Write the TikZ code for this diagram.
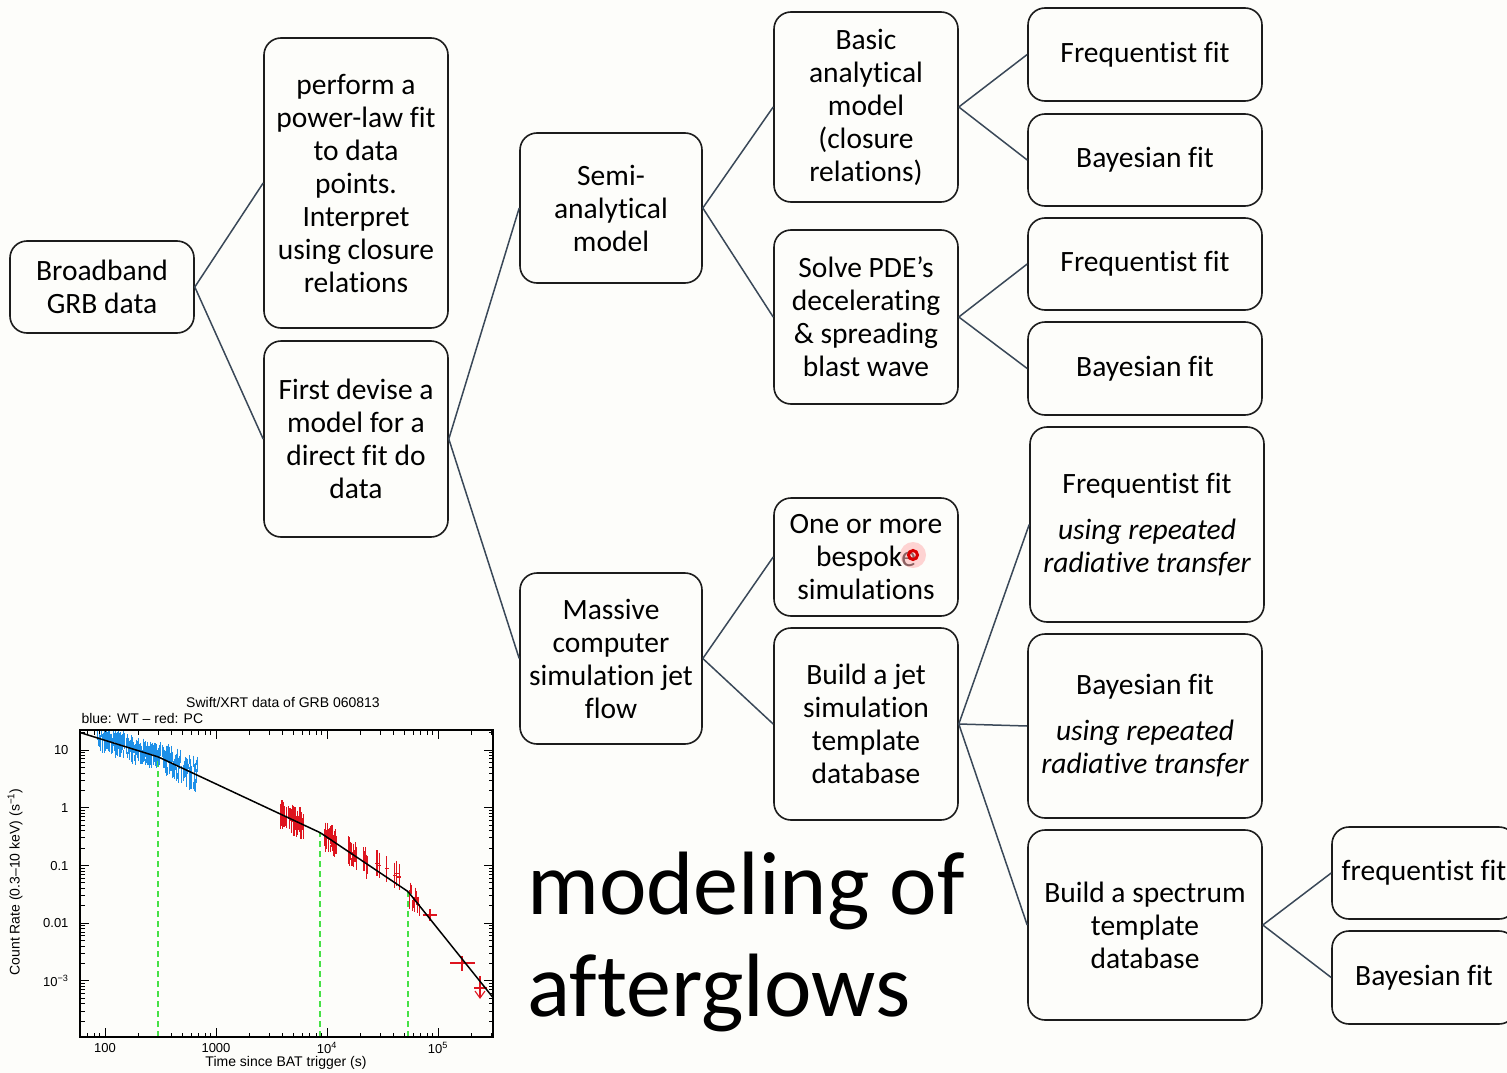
\documentclass[tikz,border=0pt]{standalone}
\usepackage{fontspec}
\setmainfont[Ligatures=NoCommon]{Carlito}
\newfontfamily\plotfont{Liberation Sans}
\usetikzlibrary{arrows.meta}

\definecolor{bg}{RGB}{253,253,250}
\definecolor{linkc}{RGB}{58,72,88}
\definecolor{boxc}{RGB}{28,28,28}
\definecolor{wtblue}{RGB}{30,144,232}
\definecolor{pcred}{RGB}{222,20,30}
\definecolor{brkgreen}{RGB}{70,225,70}

\tikzset{
  box/.style={draw=boxc, line width=1.6pt, rounded corners=17pt, align=center,
    inner sep=0pt, font=\fontsize{29.5}{33}\selectfont},
  link/.style={draw=linkc, line width=1.5pt},
  axisfont/.style={font=\plotfont\fontsize{14}{16}\selectfont},
  tickfont/.style={font=\plotfont\fontsize{13}{15}\selectfont},
  tickmark/.style={line width=0.9pt, black},
  wtbar/.style={wtblue, line width=0.9pt},
  pcbar/.style={pcred, line width=1.1pt},
  breakline/.style={brkgreen, line width=1.5pt, dash pattern=on 6pt off 4pt},
  declare function={
    lcurve(\q) = (\q<2.48)*(0.88-0.6*(\q-2.48))
               + (\q>=2.48)*(\q<3.94)*(0.88-0.9*(\q-2.48))
               + (\q>=3.94)*(\q<4.73)*(-0.434-1.29*(\q-3.94))
               + (\q>=4.73)*(-1.453-2.4*(\q-4.73));
    px(\q) = 105+111*(\q-2);
    py(\q) = 750-57.7*(\q-1);
  }
}

\begin{document}
\begin{tikzpicture}[x=1pt,y=-1pt]
\useasboundingbox (0,0) rectangle (1507,1073);
\fill[bg] (0,0) rectangle (1507,1073);

% ---------------- decision tree ----------------
\node[box, minimum width=184pt, minimum height=92pt]  (grb)  at (102,287)  {Broadband\\GRB data};
\node[box, minimum width=184pt, minimum height=290pt] (pl)   at (356,183)  {perform a\\power-law fit\\to data\\points.\\Interpret\\using closure\\relations};
\node[box, minimum width=184pt, minimum height=196pt] (dev)  at (356,439)  {First devise a\\model for a\\direct fit do\\data};
\node[box, minimum width=182pt, minimum height=150pt] (semi) at (611,208)  {Semi-\\analytical\\model};
\node[box, minimum width=182pt, minimum height=171pt] (mass) at (611,658.5){Massive\\computer\\simulation jet\\flow};
\node[box, minimum width=184pt, minimum height=190pt] (basic) at (866,107) {Basic\\analytical\\model\\(closure\\relations)};
\node[box, minimum width=184pt, minimum height=174pt] (pde)  at (866,317)  {Solve PDE’s\\decelerating\\\& spreading\\blast wave};
\node[box, minimum width=184pt, minimum height=118pt] (besp) at (866,557)  {One or more\\bespoke\\simulations};
\node[box, minimum width=184pt, minimum height=192pt] (jet)  at (866,724)  {Build a jet\\simulation\\template\\database};

\node[box, minimum width=234pt, minimum height=93pt]  (fa) at (1145,54.5)  {Frequentist fit};
\node[box, minimum width=234pt, minimum height=92pt]  (ba) at (1145,160)   {Bayesian fit};
\node[box, minimum width=234pt, minimum height=92pt]  (fb) at (1145,264)   {Frequentist fit};
\node[box, minimum width=234pt, minimum height=93pt]  (bb) at (1145,368.5) {Bayesian fit};
\node[box, minimum width=234pt, minimum height=195pt] (fc) at (1147,524.5)
  {Frequentist fit\\[13pt]\itshape using repeated\\\itshape radiative transfer};
\node[box, minimum width=234pt, minimum height=184pt] (bc) at (1145,726)
  {Bayesian fit\\[13pt]\itshape using repeated\\\itshape radiative transfer};
\node[box, minimum width=234pt, minimum height=190pt] (spec) at (1145,925) {Build a spectrum\\template\\database};
\node[box, minimum width=184pt, minimum height=92pt]  (fd) at (1424,873)   {frequentist fit};
\node[box, minimum width=184pt, minimum height=93pt]  (bd) at (1424,977.5) {Bayesian fit};

\draw[link] (grb.east) -- (pl.west);
\draw[link] (grb.east) -- (dev.west);
\draw[link] (dev.east) -- (semi.west);
\draw[link] (dev.east) -- (mass.west);
\draw[link] (semi.east) -- (basic.west);
\draw[link] (semi.east) -- (pde.west);
\draw[link] (mass.east) -- (besp.west);
\draw[link] (mass.east) -- (jet.west);
\draw[link] (basic.east) -- (fa.west);
\draw[link] (basic.east) -- (ba.west);
\draw[link] (pde.east) -- (fb.west);
\draw[link] (pde.east) -- (bb.west);
\draw[link] (jet.east) -- (fc.west);
\draw[link] (jet.east) -- (bc.west);
\draw[link] (jet.east) -- (spec.west);
\draw[link] (spec.east) -- (fd.west);
\draw[link] (spec.east) -- (bd.west);

% pointer spot
\fill[red!30, opacity=0.55] (913,555) circle (13pt);
\draw[red!85!black, line width=3pt] (913,555) circle (4.5pt);

% ---------------- title ----------------
\node[anchor=base west, inner sep=0pt, font=\fontsize{90}{100}\selectfont] (t1) at (527,914) {modeling of};
\node[anchor=base west, inner sep=0pt, font=\fontsize{90}{100}\selectfont] (t2) at (527,1016) {afterglows};

% ---------------- light curve ----------------
\pgfmathsetseed{4711}
\begin{scope}
  \clip (80,730) rectangle (493,1037);
  % minor and major ticks, x axis
  \foreach \d in {1,...,5} {
    \foreach \k in {1,...,9} {
      \pgfmathsetmacro\tx{px(\d+log10(\k))}
      \pgfmathsetmacro\tl{(\k==1)*9+(\k>1)*4.5}
      \draw[tickmark] (\tx,1037) -- ++(0,-\tl);
      \draw[tickmark] (\tx,730) -- ++(0,\tl);
    }
  }
  % minor and major ticks, y axis
  \foreach \d in {-4,...,1} {
    \foreach \k in {1,...,9} {
      \pgfmathsetmacro\ty{py(\d+log10(\k))}
      \pgfmathsetmacro\tl{(\k==1)*9+(\k>1)*4.5}
      \draw[tickmark] (80,\ty) -- ++(\tl,0);
      \draw[tickmark] (493,\ty) -- ++(-\tl,0);
    }
  }
  % break times
  \draw[breakline] (158,1037) -- (158,757);
  \draw[breakline] (320,1037) -- (320,833);
  \draw[breakline] (408,1037) -- (408,892);
  % WT mode data
  \foreach \k in {1,...,340} {
    \pgfmathsetmacro\tu{1.93+rnd*0.9}
    \pgfmathsetmacro\tv{lcurve(\tu)+(rnd-0.5)*(0.22+0.25*(\tu-1.93))}
    \pgfmathsetmacro\te{0.04+rnd*0.09}
    \draw[wtbar] ({px(\tu)},{py(\tv+\te)}) -- ({px(\tu)},{py(\tv-\te)});
  }
  % PC mode data
  \foreach \ua/\ub/\nn in {3.58/3.80/60, 3.98/4.09/34, 4.19/4.27/24, 4.33/4.37/10, 4.73/4.84/14} {
    \foreach \k in {1,...,\nn} {
      \pgfmathsetmacro\tu{\ua+rnd*(\ub-\ua)}
      \pgfmathsetmacro\tv{lcurve(\tu)+(rnd-0.5)*0.3}
      \pgfmathsetmacro\te{0.06+rnd*0.1}
      \draw[pcbar] ({px(\tu)},{py(\tv+\te)}) -- ({px(\tu)},{py(\tv-\te)});
    }
  }
  \foreach \tu/\tv in {4.45/-0.96, 4.47/-1.0, 4.54/-1.06, 4.61/-1.17, 4.63/-1.14, 4.65/-1.20} {
    \draw[pcbar] ({px(\tu)},{py(\tv+0.22)}) -- ({px(\tu)},{py(\tv-0.22)});
    \draw[pcbar] ({px(\tu-0.015)},{py(\tv)}) -- ({px(\tu+0.015)},{py(\tv)});
  }
  \draw[pcbar] (423,915) -- (437,915);
  \draw[pcbar] (430,909) -- (430,921);
  \draw[pcbar] (450,963) -- (475,963);
  \draw[pcbar] (462,956) -- (462,971);
  \draw[pcbar] (474,988) -- (487,988);
  \draw[pcbar] (480,976) -- (480,998);
  \draw[pcbar] (475,991) -- (480,998) -- (485,991);
  % broken power-law model
  \draw[black, line width=1.5pt] plot[domain=1.775:5.5, samples=150] ({px(\x)},{py(lcurve(\x))});
\end{scope}
\draw[black, line width=1.3pt] (80,730) rectangle (493,1037);

\node[tickfont] (xt1) at (105,1048) {100};
\node[tickfont] (xt2) at (216,1048) {1000};
\node[tickfont] (xt3) at (327,1048) {10\textsuperscript{4}};
\node[tickfont] (xt4) at (438,1048) {10\textsuperscript{5}};
\node[tickfont, anchor=east] (yt1) at (72,750) {10};
\node[tickfont, anchor=east] (yt2) at (72,808) {1};
\node[tickfont, anchor=east] (yt3) at (72,866) {0.1};
\node[tickfont, anchor=east] (yt4) at (72,923) {0.01};
\node[tickfont, anchor=east] (yt5) at (72,981) {10\textsuperscript{−3}};
\node[axisfont] (xlab) at (286,1063) {Time since BAT trigger (s)};
\node[axisfont, rotate=90] (ylab) at (15,882) {Count Rate (0.3–10 keV) (s\textsuperscript{−1})};
\node[axisfont] (ptitle) at (283,702) {Swift/XRT data of GRB 060813};
\node[axisfont, anchor=west] (pleg) at (78,718) {blue: WT – red: PC};
\end{tikzpicture}
\end{document}
